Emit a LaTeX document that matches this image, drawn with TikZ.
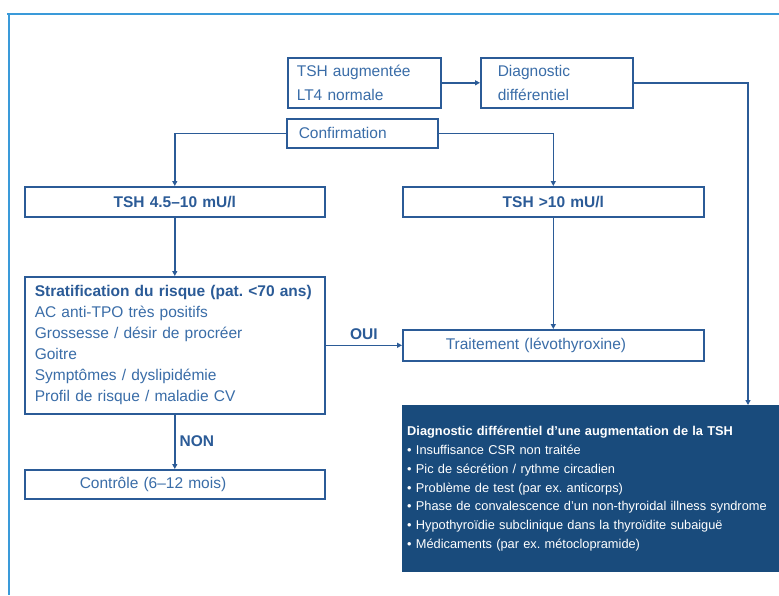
\documentclass[tikz,border=0pt]{standalone}
\usepackage{fontspec}
\setmainfont{Liberation Sans}
\usetikzlibrary{arrows.meta}
\definecolor{boxline}{RGB}{43,91,151}
\definecolor{txt}{RGB}{58,109,168}
\definecolor{darkfill}{RGB}{25,75,124}
\definecolor{framecol}{RGB}{58,154,217}
\frenchspacing
\begin{document}
\begin{tikzpicture}[x=1pt,y=-1pt,
  box/.style={draw=boxline, line width=1.6pt, fill=white, inner ysep=0pt, anchor=north west, text=txt,
    font=\fontsize{15.5}{21}\selectfont},
  boldbox/.style={box, font=\fontsize{15.5}{21}\selectfont\bfseries, text=boxline, align=center, inner xsep=0pt},
  conn/.style={draw=boxline, line width=1.6pt, -{Triangle[length=5pt,width=5pt]}},
  lbl/.style={font=\fontsize{15.5}{18}\selectfont\bfseries, text=boxline, inner sep=0pt},
  framel/.style={draw=framecol, line width=1.8pt}]
\useasboundingbox (0,0) rectangle (779,595);
\fill[white] (0,0) rectangle (779,595);
% frame
\draw[framel] (7,14) -- (779,14);
\draw[framel] (9,14) -- (9,595);
% boxes
\node[box, minimum width=153pt, minimum height=50pt, inner xsep=9pt, text width=135pt, align=left,
  font=\fontsize{15.5}{24}\selectfont] (tsh) at (287,57) {TSH augmentée\\LT4 normale};
\node[box, minimum width=152pt, minimum height=50pt, inner xsep=17pt, text width=118pt, align=left,
  font=\fontsize{15.5}{24}\selectfont] (diag) at (480,57) {Diagnostic\\différentiel};
\node[box, minimum width=151pt, minimum height=29pt, inner xsep=12pt, text width=127pt, align=left] (conf) at (286,118) {Confirmation};
\node[boldbox, minimum width=300pt, minimum height=30pt, text width=300pt] (tsha) at (24,186) {TSH 4.5–10 mU/l};
\node[boldbox, minimum width=301pt, minimum height=30pt, text width=301pt] (tshb) at (402,186) {TSH \textgreater10 mU/l};
\node[box, minimum width=300pt, minimum height=137pt, inner xsep=10pt, text width=280pt, align=left] (strat) at (24,276)
  {\textbf{\color{boxline}Stratification du risque (pat. \textless70 ans)}\\AC anti-TPO très positifs\\Grossesse / désir de procréer\\Goitre\\Symptômes / dyslipidémie\\Profil de risque / maladie CV};
\node[box, minimum width=301pt, minimum height=31pt, inner xsep=43pt, text width=215pt, align=left] (trait) at (402,329) {Traitement (lévothyroxine)};
\node[box, minimum width=300pt, minimum height=29pt, inner xsep=55pt, text width=190pt, align=left] (ctrl) at (24,469) {Contrôle (6–12 mois)};
\node[fill=darkfill, draw=none, anchor=north west, minimum width=377pt, minimum height=167pt, inner xsep=5pt, inner ysep=0pt,
  text width=367pt, align=left, text=white, font=\fontsize{12.8}{18.7}\selectfont] (dd) at (402,405)
  {\textbf{Diagnostic différentiel d’une augmentation de la TSH}\\
   • Insuffisance CSR non traitée\\
   • Pic de sécrétion / rythme circadien\\
   • Problème de test (par ex. anticorps)\\
   • Phase de convalescence d’un non-thyroidal illness syndrome\\
   • Hypothyroïdie subclinique dans la thyroïdite subaiguë\\
   • Médicaments (par ex. métoclopramide)};
\coordinate (ddin) at (748,405);
% connectors
\draw[conn] (tsh.east) -- (diag.west);
\draw[conn] (diag.east) -| (ddin);
\draw[conn] (conf.west) -| (tsha.north);
\draw[conn] (conf.east) -| (tshb.north);
\draw[conn] (tsha.south) -- (strat.north);
\draw[conn] (tshb.south) -- (trait.north);
\draw[conn] (strat.east) -- node[lbl, above=5pt, pos=0.5] (oui) {OUI} (trait.west);
\draw[conn] (strat.south) -- node[lbl, right=4pt, pos=0.48] (non) {NON} (ctrl.north);
\end{tikzpicture}
\end{document}
